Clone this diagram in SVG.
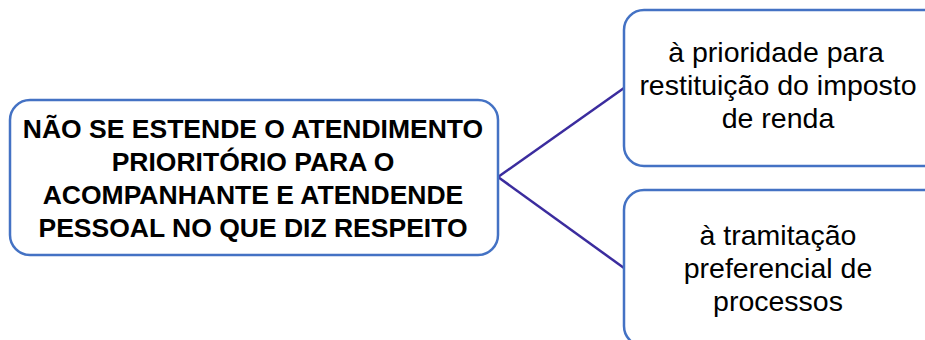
<svg xmlns="http://www.w3.org/2000/svg" width="925" height="340" viewBox="0 0 925 340">
<style>
.box{fill:#fff;stroke:#4472C4;stroke-width:2.5}
.conn{stroke:#3B2C9E;stroke-width:2.5;fill:none}
.t{font-family:"Liberation Sans",Arial,sans-serif;fill:#000;text-anchor:middle}
.b{font-weight:bold;font-size:26.5px}
.r{font-size:28.5px}
</style>
<rect width="925" height="340" fill="#fff"/>
<g id="connectors">
<line class="conn" x1="498" y1="177" x2="624" y2="88"/>
<line class="conn" x1="498" y1="177" x2="624" y2="268"/>
</g>
<g id="main">
<rect class="box" x="10" y="100" width="488" height="155" rx="20"/>
<text class="t b" x="253" y="138">NÃO SE ESTENDE O ATENDIMENTO</text>
<text class="t b" x="253" y="171">PRIORITÓRIO PARA O</text>
<text class="t b" x="253" y="204">ACOMPANHANTE E ATENDENDE</text>
<text class="t b" x="253" y="237">PESSOAL NO QUE DIZ RESPEITO</text>
</g>
<g id="n1">
<rect class="box" x="624" y="10" width="320" height="156" rx="20"/>
<text class="t r" x="776" y="62">à prioridade para</text>
<text class="t r" x="778" y="95">restituição do imposto</text>
<text class="t r" x="778" y="128">de renda</text>
</g>
<g id="n2">
<rect class="box" x="624" y="190" width="320" height="156" rx="20"/>
<text class="t r" x="778" y="245">à tramitação</text>
<text class="t r" x="778" y="278">preferencial de</text>
<text class="t r" x="778" y="311">processos</text>
</g>
</svg>
